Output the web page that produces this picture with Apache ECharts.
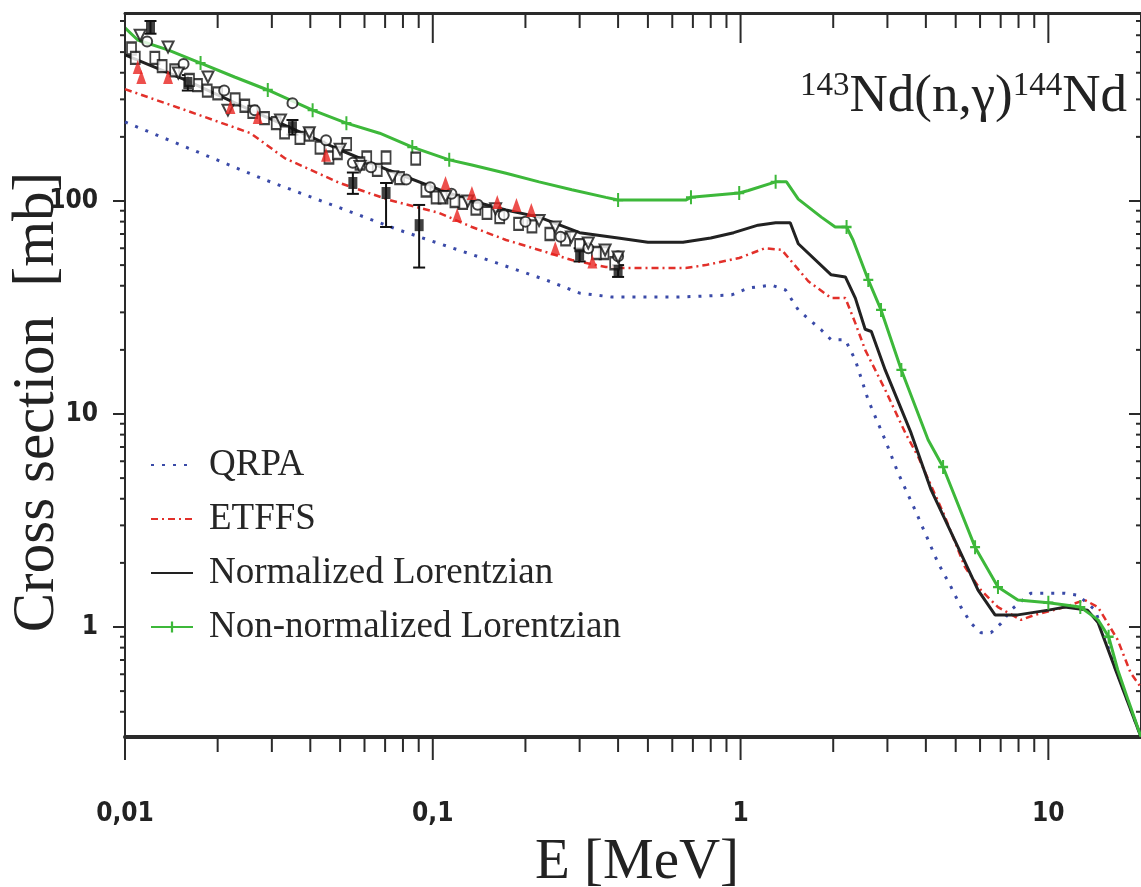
<!DOCTYPE html>
<html><head><meta charset="utf-8">
<script src="https://cdn.jsdelivr.net/npm/echarts@6/dist/echarts.min.js"></script>
<style>html,body{margin:0;padding:0;background:#fff}#c{width:1141px;height:887px}</style>
</head><body><div id="c"></div>
<script>
// ---- axis ranges and ticks ----
const X_MIN = 0.01, X_MAX = 20, Y_MIN = 0.3045, Y_MAX = 763;
const xMajorTicks = [0.01, 0.1, 1, 10];
const xMinorTicks = [0.02,0.03,0.04,0.05,0.06,0.07,0.08,0.09,0.2,0.3,0.4,0.5,0.6,0.7,0.8,0.9,2,3,4,5,6,7,8,9];
const yMajorTicks = [1, 10, 100];
const yMinorTicks = [0.4,0.5,0.6,0.7,0.8,0.9,2,3,4,5,6,7,8,9,20,30,40,50,60,70,80,90,200,300,400,500,600,700];
const xTickLabels = {'-2':'0,01','-1':'0,1','0':'1','1':'10'};
const yTickLabels = {'0':'1','1':'10','2':'100'};

// ---- theory curves ----
const qrpaE = [0.01,0.0288,0.0778,0.1415,0.233,0.299,0.382,0.63,0.935,1.06,1.26,1.40,1.54,1.83,1.97,2.19,2.36,2.6,2.95,3.25,3.69,4.07,4.38,4.83,5.2,5.61,6.04,6.51,7.02,7.55,8.77,11.3,12.5,14.2,16.4,20];
const qrpaS = [235,125,73,54.6,42.6,37,35.4,35.4,36.2,39,40.3,38.2,30.8,24.8,22.3,22.3,17.9,11.6,7.55,5.28,3.54,2.56,2.0,1.54,1.24,1.04,0.94,0.94,1.04,1.2,1.44,1.44,1.41,1.2,0.66,0.305];

const etffsE = [0.01,0.0157,0.0256,0.033,0.0498,0.0723,0.105,0.134,0.173,0.2215,0.283,0.365,0.40,0.663,0.77,0.99,1.2,1.36,1.66,1.97,2.19,2.36,2.54,2.95,3.43,3.78,4.62,5.36,6.04,6.86,8.15,9.04,11.3,13.1,14.5,16.8,18.5,20];
const etffsS = [335,267,208,159,121.5,101,87.8,75.5,65.6,58.9,52.8,49,48.5,48.5,50,54,60,59,42,35,35,26.7,20,13,8.15,6.28,3.28,1.91,1.49,1.24,1.08,1.14,1.24,1.34,1.24,0.87,0.61,0.52];

const normE = [0.01,0.0157,0.0256,0.033,0.0498,0.0723,0.105,0.134,0.173,0.2215,0.3,0.4,0.5,0.65,0.8,0.95,1.14,1.3,1.45,1.54,1.97,2.19,2.36,2.54,2.66,2.95,3.58,4.16,4.98,5.91,6.71,7.96,10,11.3,13.4,14.5,16.4,20];
const normS = [485,370,267,227,174,139,113,100,90.7,84,71,67,64,64,67,71,77,79,79,63,45,44,35,25,24.4,16.1,8.15,4.4,2.53,1.49,1.14,1.14,1.2,1.24,1.2,1.05,0.65,0.305];

const nonnormE = [0.01,0.011,0.01378,0.0176,0.0227,0.0291,0.0407,0.0524,0.0672,0.0858,0.1131,0.134,0.173,0.2215,0.283,0.365,0.40,0.663,0.69,0.99,1.06,1.3,1.41,1.54,1.83,2.03,2.21,2.32,2.6,2.86,3.33,4.07,4.55,5.78,6.86,7.96,10,12.7,14.5,15.7,16.8,18.2,20];
const nonnormS = [650,570,512,444,382,332,267,232,208,179,156,147.6,135,123,113,104,101,101,104,109,112,123,123,102,84,75.5,75.5,65.6,42.6,30.8,16.1,7.55,5.64,2.37,1.54,1.34,1.30,1.24,1.08,0.9,0.63,0.45,0.305];
const nonnormMark = [0,0,0,1,0,1,1,1,0,1,1,0,0,0,0,0,1,0,1,1,0,1,0,0,0,0,1,0,1,1,1,0,1,1,1,0,1,1,0,1,0,0,0];

// ---- experimental data ----
const expSqE = [0.0105,0.0125,0.0145,0.0172,0.02,0.0245,0.0284,0.033,0.0397,0.046,0.0525,0.061,0.0705,0.088,0.1025,0.125,0.15,0.19,0.24,0.3,0.36,
                0.0108,0.0132,0.0162,0.0185,0.0228,0.026,0.031,0.037,0.043,0.049,0.058,0.066,0.078,0.095,0.108,0.118,0.138,0.165,0.21,0.27,0.34,0.39];
const expSqS = [520,470,410,350,320,280,245,210,205,160,185,160,160,158,104,98,88,78,70,62,57,
                470,430,370,330,300,262,232,198,178,168,150,140,128,112,104,100,92,84,76,66,57,51];
const expCircE = [0.0118,0.0155,0.021,0.0264,0.035,0.045,0.055,0.063,0.082,0.098,0.115,0.14,0.17,0.2,0.26,0.32,0.4];
const expCircS = [560,440,330,267,288,193,151,144,126,116,108,96,86,80,68,60,55];
const expTriE = [0.0112,0.0138,0.0149,0.0186,0.0216,0.032,0.0397,0.05,0.058,0.074,0.11,0.13,0.16,0.2215,0.25,0.282,0.32,0.363,0.40];
const expTriS = [600,528,399,382,267,240,209,175,145,130,105,100,92,81,75.5,67.8,63.5,58.9,54.6];
const expFillE = [0.0121,0.016,0.035,0.055,0.0705,0.0903,0.3,0.4];
const expFillS = [656,358,222,121.5,109,77,56,47];
const expFillLo = [610,330,205,108,75.5,48.7,52,44];
const expFillHi = [700,390,240,136,121.5,95.8,60,50];
const expRedE = [0.011,0.0113,0.0138,0.022,0.027,0.045,0.11,0.12,0.134,0.162,0.187,0.209,0.25,0.33];
const expRedS = [426,382,382,276,248,165,121.5,86,109,99,95.8,90.7,60,52];

const legendNames = ['QRPA','ETFFS','Normalized Lorentzian','Non-normalized Lorentzian'];

// ---- styling ----
const C_BLUE = '#3a4aa8', C_RED = '#e2302a', C_BLACK = '#222222', C_GREEN = '#3db83a', C_EXPRED = '#e8231f';
const SERIF = '"Liberation Serif","DejaVu Serif",serif';
const NARROW = '"Liberation Sans Narrow","DejaVu Sans Condensed","Liberation Sans",sans-serif';
const PLUS = 'path://M4,0h2v5h4v2h-4v5h-2v-5h-4v-2h4z';
const HIDDEN_ICON = {color: 'rgba(0,0,0,0)', borderColor: 'rgba(0,0,0,0)', borderWidth: 0, opacity: 0};

const zip = (a, b) => a.map((v, i) => [v, b[i]]);
const logKey = v => String(Math.round(Math.log10(v)));
const isPow = v => Math.abs(Math.log10(v) - Math.round(Math.log10(v))) < 1e-6;

function line(x1, y1, x2, y2, w) {
  return {type: 'line', shape: {x1, y1, x2, y2}, style: {stroke: '#2a2a2a', lineWidth: w}};
}
function xTickSeries(vals, lenB, lenT) {
  return {
    type: 'custom', silent: true, clip: false, z: 20,
    data: vals.map(v => [v, Y_MIN]),
    renderItem: (params, api) => {
      const cs = params.coordSys;
      const px = api.coord([api.value(0), api.value(1)])[0];
      const yb = cs.y + cs.height, yt = cs.y;
      return {type: 'group', children: [line(px, yb, px, yb + lenB, 2), line(px, yt, px, yt + lenT, 2)]};
    }
  };
}
function yTickSeries(vals, lenL, lenR) {
  return {
    type: 'custom', silent: true, clip: false, z: 20,
    data: vals.map(v => [X_MIN, v]),
    renderItem: (params, api) => {
      const cs = params.coordSys;
      const py = api.coord([api.value(0), api.value(1)])[1];
      const xl = cs.x, xr = cs.x + cs.width;
      return {type: 'group', children: [line(xl - lenL, py, xl + 1, py, 2), line(xr - lenR, py, xr, py, 2)]};
    }
  };
}

const chart = echarts.init(document.getElementById('c'), null, {renderer: 'canvas'});
const axisCommon = {type: 'log', logBase: 10, splitLine: {show: false}, axisTick: {show: false}, minorTick: {show: false}};

chart.setOption({
  backgroundColor: '#ffffff',
  animation: false,
  grid: {left: 125, top: 13, width: 1018, height: 724, show: false},
  xAxis: [
    Object.assign({}, axisCommon, {
      min: X_MIN, max: X_MAX, position: 'bottom',
      axisLine: {show: true, lineStyle: {color: '#2a2a2a', width: 4}},
      axisLabel: {
        show: true, margin: 64, color: '#222', fontFamily: NARROW, fontWeight: 'bold', fontSize: 26,
        showMinLabel: true, showMaxLabel: false,
        formatter: v => isPow(v) ? (xTickLabels[logKey(v)] || '') : ''
      }
    }),
    Object.assign({}, axisCommon, {
      min: X_MIN, max: X_MAX, position: 'top',
      axisLine: {show: true, lineStyle: {color: '#2a2a2a', width: 3}},
      axisLabel: {show: false}
    })
  ],
  yAxis: [
    Object.assign({}, axisCommon, {
      min: Y_MIN, max: Y_MAX, position: 'left',
      axisLine: {show: true, lineStyle: {color: '#2a2a2a', width: 2}},
      axisLabel: {
        show: true, margin: 27, color: '#222', fontFamily: NARROW, fontWeight: 'bold', fontSize: 26,
        showMinLabel: false, showMaxLabel: false,
        formatter: v => isPow(v) ? (yTickLabels[logKey(v)] || '') : ''
      }
    }),
    Object.assign({}, axisCommon, {
      min: Y_MIN, max: Y_MAX, position: 'right',
      axisLine: {show: true, lineStyle: {color: '#2a2a2a', width: 2}},
      axisLabel: {show: false}
    })
  ],
  legend: {
    data: [
      {name: legendNames[0], itemStyle: HIDDEN_ICON},
      {name: legendNames[1], itemStyle: HIDDEN_ICON},
      {name: legendNames[2], itemStyle: HIDDEN_ICON},
      {name: legendNames[3]}
    ],
    orient: 'vertical', left: 145, top: 440,
    itemWidth: 42, itemHeight: 14, itemGap: 14,
    textStyle: {fontFamily: SERIF, fontSize: 37, color: '#262626', lineHeight: 40, padding: [0, 0, 0, 11]},
    selectedMode: false
  },
  graphic: [
    {
      type: 'text', x: 637, y: 863,
      style: {text: 'E [MeV]', x: 0, y: 0, font: '57px ' + SERIF, fill: '#222', align: 'center', verticalAlign: 'middle'}
    },
    {
      type: 'text', x: 37, y: 402, rotation: Math.PI / 2,
      style: {text: 'Cross section  [mb]', x: 0, y: 0, font: '59px ' + SERIF, fill: '#222', align: 'center', verticalAlign: 'middle'}
    },
    {
      type: 'text', x: 1127, y: 97,
      style: {
        text: '{s|143}{m|Nd(n,γ)}{s|144}{m|Nd}', x: 0, y: 0, align: 'right', verticalAlign: 'middle',
        rich: {
          s: {fontFamily: SERIF, fontSize: 33, fill: '#222', verticalAlign: 'top', lineHeight: 34},
          m: {fontFamily: SERIF, fontSize: 53, fill: '#222', lineHeight: 54, verticalAlign: 'bottom'}
        }
      }
    }
  ],
  series: [
    {
      name: 'QRPA', type: 'line', data: zip(qrpaE, qrpaS), symbol: 'none', z: 3,
      lineStyle: {color: C_BLUE, width: 3, type: [3, 8]}, itemStyle: {color: C_BLUE}
    },
    {
      name: 'ETFFS', type: 'line', data: zip(etffsE, etffsS), symbol: 'none', z: 3,
      lineStyle: {color: C_RED, width: 2.5, type: [7, 4, 2, 4]}, itemStyle: {color: C_RED}
    },
    {
      name: 'Normalized Lorentzian', type: 'line', data: zip(normE, normS), symbol: 'none', z: 4,
      lineStyle: {color: C_BLACK, width: 3}, itemStyle: {color: C_BLACK}
    },
    {
      name: 'Non-normalized Lorentzian', type: 'line', z: 5,
      data: nonnormE.map((e, i) => ({value: [e, nonnormS[i]], symbol: nonnormMark[i] ? PLUS : 'none'})),
      symbol: PLUS, symbolSize: [10, 14], showSymbol: true, showAllSymbol: true,
      lineStyle: {color: C_GREEN, width: 3}, itemStyle: {color: C_GREEN}
    },
    {
      name: 'exp-err', type: 'custom', silent: true, z: 6,
      data: expFillE.map((e, i) => [e, expFillLo[i], expFillHi[i]]),
      encode: {x: 0, y: [1, 2]},
      renderItem: (params, api) => {
        const lo = api.coord([api.value(0), api.value(1)]);
        const hi = api.coord([api.value(0), api.value(2)]);
        const st = {stroke: '#111', lineWidth: 2};
        return {type: 'group', children: [
          {type: 'line', shape: {x1: lo[0], y1: lo[1], x2: hi[0], y2: hi[1]}, style: st},
          {type: 'line', shape: {x1: lo[0] - 6, y1: lo[1], x2: lo[0] + 6, y2: lo[1]}, style: st},
          {type: 'line', shape: {x1: hi[0] - 6, y1: hi[1], x2: hi[0] + 6, y2: hi[1]}, style: st}
        ]};
      }
    },
    {name: 'exp-sq', type: 'scatter', z: 7, data: zip(expSqE, expSqS), symbol: 'rect', symbolSize: [9, 12],
      itemStyle: {color: '#fff', borderColor: '#111', borderWidth: 2}},
    {name: 'exp-circ', type: 'scatter', z: 7, data: zip(expCircE, expCircS), symbol: 'circle', symbolSize: 10,
      itemStyle: {color: '#fff', borderColor: '#111', borderWidth: 2}},
    {name: 'exp-tri', type: 'scatter', z: 7, data: zip(expTriE, expTriS), symbol: 'triangle', symbolSize: [11, 11], symbolRotate: 180,
      itemStyle: {color: '#fff', borderColor: '#111', borderWidth: 2}},
    {name: 'exp-fill', type: 'scatter', z: 8, data: zip(expFillE, expFillS), symbol: 'rect', symbolSize: [9, 12],
      itemStyle: {color: '#111'}},
    {name: 'exp-red', type: 'scatter', z: 8, data: zip(expRedE, expRedS), symbol: 'triangle', symbolSize: [10, 14],
      itemStyle: {color: C_EXPRED}},
    xTickSeries(xMajorTicks, 23, 30),
    xTickSeries(xMinorTicks, 15, 15),
    yTickSeries(yMajorTicks, 12, 12),
    yTickSeries(yMinorTicks, 5, 5)
  ]
});
</script>
</body></html>
